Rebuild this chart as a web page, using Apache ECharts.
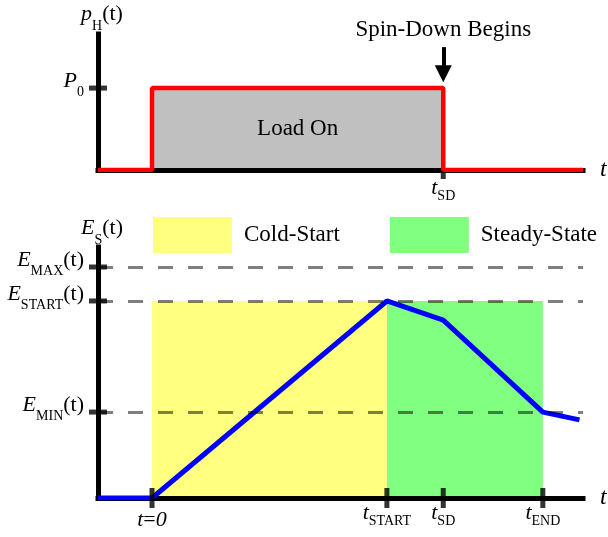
<!DOCTYPE html>
<html>
<head>
<meta charset="utf-8">
<script src="https://cdn.jsdelivr.net/npm/echarts@6/dist/echarts.min.js"></script>
<style>
  html, body { margin: 0; padding: 0; background: #fff; }
  #chart { width: 608px; height: 537px; }
</style>
</head>
<body>
<div id="chart"></div>
<script>
// Time axis (shared by both panels)
const X_MIN = -2.3;
const X_MAX = 18.35;
const T_ZERO = 0;
const T_START = 10;
const T_SD = 12.4;
const T_END = 16.64;

// Power panel levels
const P_MAX_AXIS = 1.66;
const P0 = 1;
const powerT = [X_MIN, T_ZERO, T_ZERO, T_SD, T_SD, X_MAX];
const powerP = [0, 0, P0, P0, 0, 0];

// Energy panel levels
const E_AXIS_MAX = 108.66;
const E_MAX = 100;
const E_START = 85.3;
const E_MIN = 37.2;
const energyT = [X_MIN, T_ZERO, T_START, T_SD, T_END, 18.2];
const energyE = [0, 0, E_START, 77, E_MIN, 33.8];

// Tick label texts
const xLabelsTop = { [T_SD]: '{it|t}{subx|SD}' };
const xLabelsBottom = {
  [T_ZERO]: '{itl|t}{rml|=}{itl|0}',
  [T_START]: '{it|t}{subx|START}',
  [T_SD]: '{it|t}{subx|SD}',
  [T_END]: '{it|t}{subx|END}'
};
const yLabelsTop = { [P0]: '{it|P}{sub|0}' };
const yLabelsBottom = {
  [E_MAX]: '{it|E}{sub|MAX}{rm|(t)}',
  [E_START]: '{it|E}{sub|START}{rm|(t)}',
  [E_MIN]: '{it|E}{sub|MIN}{rm|(t)}'
};

const SERIF = 'Liberation Serif';
const rich = {
  it: { fontFamily: SERIF, fontStyle: 'italic', fontSize: 22, color: '#000' },
  rm: { fontFamily: SERIF, fontSize: 22, color: '#000' },
  itl: { fontFamily: SERIF, fontStyle: 'italic', fontSize: 22, color: '#000', padding: [10, 0, 0, 0] },
  rml: { fontFamily: SERIF, fontSize: 22, color: '#000', padding: [10, 0, 0, 0] },
  sub: { fontFamily: SERIF, fontSize: 14, color: '#000', padding: [23, 0, 0, 0] },
  subx: { fontFamily: SERIF, fontSize: 14, color: '#000', padding: [15, 0, 0, 0] }
};

const zip = (a, b) => a.map((v, i) => [v, b[i]]);

function xAxisOf(grid, labels, margin) {
  return {
    type: 'value', gridIndex: grid, min: X_MIN, max: X_MAX, z: 2,
    name: 't', nameLocation: 'end', nameGap: 17,
    nameTextStyle: { fontFamily: SERIF, fontStyle: 'italic', fontSize: 24, color: '#000', verticalAlign: 'middle' },
    axisLine: { show: true, onZero: false, lineStyle: { color: '#000', width: 5, cap: 'square' } },
    axisTick: { show: false },
    splitLine: { show: false },
    axisLabel: {
      customValues: Object.keys(labels).map(Number),
      margin: margin,
      formatter: v => labels[v] || '',
      rich
    }
  };
}

function yAxisOf(grid, max, labels, name, gap) {
  return {
    type: 'value', gridIndex: grid, min: 0, max: max, z: 2,
    name: name, nameLocation: 'end', nameGap: gap,
    nameTextStyle: { rich, padding: [0, 0, 0, 8] },
    axisLine: { show: true, onZero: false, lineStyle: { color: '#000', width: 5, cap: 'square' } },
    axisTick: { show: false },
    splitLine: { show: false },
    axisLabel: {
      customValues: Object.keys(labels).map(Number),
      margin: 14,
      padding: [0, 0, 14, 0],
      formatter: v => labels[v] || '',
      rich
    }
  };
}

const tickStyle = { color: '#000' };

const option = {
  animation: false,
  backgroundColor: '#fff',
  textStyle: { fontFamily: SERIF },
  grid: [
    { left: 98, right: 25, top: 34, height: 136 },
    { left: 98, right: 25, top: 247, height: 251 }
  ],
  xAxis: [xAxisOf(0, xLabelsTop, 4), xAxisOf(1, xLabelsBottom, 1)],
  yAxis: [
    yAxisOf(0, P_MAX_AXIS, yLabelsTop, '{it|p}{sub|H}{rm|(t)}', 1),
    yAxisOf(1, E_AXIS_MAX, yLabelsBottom, '{it|E}{sub|S}{rm|(t)}', 0)
  ],
  legend: {
    left: 153, top: 217, padding: 0,
    itemWidth: 79, itemHeight: 36, itemGap: 50,
    icon: 'rect',
    selectedMode: false,
    data: ['Cold-Start', 'Steady-State'],
    textStyle: { fontFamily: SERIF, fontSize: 23, color: '#000', padding: [0, 0, 0, 7] }
  },
  series: [
    {
      name: 'Load On', type: 'line', xAxisIndex: 0, yAxisIndex: 0, z: 1,
      data: [], silent: true,
      markArea: {
        silent: true,
        itemStyle: { color: '#c0c0c0' },
        label: { show: true, position: 'inside', formatter: 'Load On', fontFamily: SERIF, fontSize: 23, color: '#000' },
        data: [[{ coord: [T_ZERO, 0] }, { coord: [T_SD, P0] }]]
      }
    },
    {
      name: 'Power', type: 'line', xAxisIndex: 0, yAxisIndex: 0, z: 4,
      data: zip(powerT, powerP), showSymbol: false, silent: true,
      lineStyle: { color: '#ff0000', width: 4.5 },
      markLine: {
        silent: true,
        symbol: ['none', 'triangle'], symbolSize: [17, 17],
        lineStyle: { color: '#000', width: 4, type: 'solid' },
        label: { show: true, position: 'start', formatter: 'Spin-Down Begins', fontFamily: SERIF, fontSize: 23, color: '#000', distance: 6 },
        data: [[{ coord: [T_SD, 1.5] }, { coord: [T_SD, 1.175] }]]
      }
    },
    {
      name: 'Cold-Start', type: 'line', xAxisIndex: 1, yAxisIndex: 1, z: 1,
      data: [], silent: true,
      itemStyle: { color: '#ffff80' },
      markArea: {
        silent: true,
        itemStyle: { color: '#ffff80' },
        data: [[{ coord: [T_ZERO, 0] }, { coord: [T_START, E_START] }]]
      }
    },
    {
      name: 'Steady-State', type: 'line', xAxisIndex: 1, yAxisIndex: 1, z: 1,
      data: [], silent: true,
      itemStyle: { color: '#80ff80' },
      markArea: {
        silent: true,
        itemStyle: { color: '#80ff80' },
        data: [[{ coord: [T_START, 0] }, { coord: [T_END, E_START] }]]
      }
    },
    {
      name: 'Levels', type: 'line', xAxisIndex: 1, yAxisIndex: 1, z: 1.5,
      data: [], silent: true,
      markLine: {
        silent: true, symbol: 'none',
        label: { show: false },
        lineStyle: { color: 'rgba(0,0,0,0.5)', width: 3, type: [15, 15] },
        data: [{ yAxis: E_MAX }, { yAxis: E_START }, { yAxis: E_MIN }]
      }
    },
    {
      name: 'Energy', type: 'line', xAxisIndex: 1, yAxisIndex: 1, z: 4,
      data: zip(energyT, energyE), showSymbol: false, silent: true,
      lineStyle: { color: '#0000ff', width: 5 }
    },
    // axis tick marks crossing the axes
    {
      type: 'scatter', xAxisIndex: 0, yAxisIndex: 0, z: 5, clip: false, silent: true,
      symbol: 'rect', symbolSize: [18, 5], itemStyle: tickStyle,
      data: [[X_MIN, P0]]
    },
    {
      type: 'scatter', xAxisIndex: 0, yAxisIndex: 0, z: 3, clip: false, silent: true,
      symbol: 'rect', symbolSize: [5, 10], symbolOffset: [0, 4], itemStyle: tickStyle,
      data: [[T_SD, 0]]
    },
    {
      type: 'scatter', xAxisIndex: 1, yAxisIndex: 1, z: 5, clip: false, silent: true,
      symbol: 'rect', symbolSize: [18, 5], itemStyle: tickStyle,
      data: [[X_MIN, E_MAX], [X_MIN, E_START], [X_MIN, E_MIN]]
    },
    {
      type: 'scatter', xAxisIndex: 1, yAxisIndex: 1, z: 5, clip: false, silent: true,
      symbol: 'rect', symbolSize: [5, 20], itemStyle: tickStyle,
      data: [[T_ZERO, 0], [T_START, 0], [T_SD, 0], [T_END, 0]]
    }
  ]
};

const chart = echarts.init(document.getElementById('chart'), null, { renderer: 'canvas' });
chart.setOption(option);
</script>
</body>
</html>
